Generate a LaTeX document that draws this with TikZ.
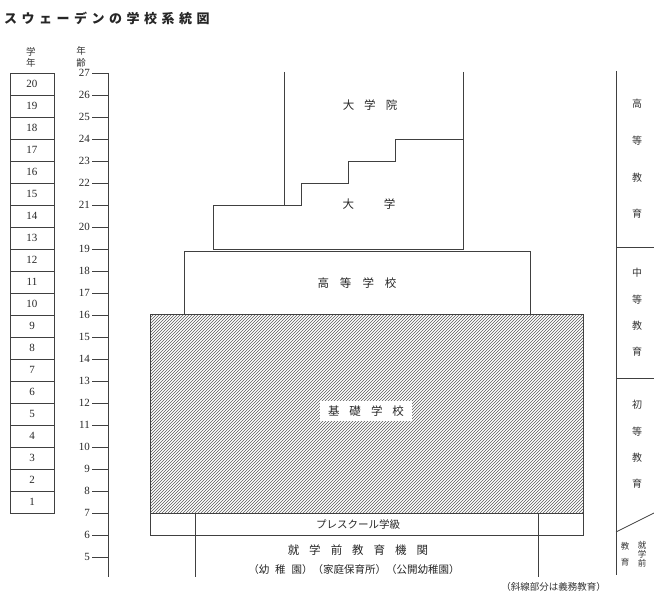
\documentclass[tikz,border=0pt]{standalone}
\usepackage{fontspec}
\setmainfont{Liberation Serif}
\newfontfamily\jp{Noto Sans CJK JP}
\usetikzlibrary{patterns}
\begin{document}
\begin{tikzpicture}[x=1pt,y=-1pt,
  ln/.style={draw=black!75,line width=0.7pt},
  num/.style={inner sep=0pt,font=\fontsize{11}{11}\selectfont,text=black!85},
  jt/.style={inner sep=0pt,font=\jp\fontsize{11.5}{11.5}\selectfont,text=black!85},
  rc/.style={inner sep=0pt,font=\jp\fontsize{10}{10}\selectfont,text=black!80},
  sm/.style={inner sep=0pt,font=\jp\fontsize{8.5}{8.5}\selectfont,text=black!80}]
\useasboundingbox (0,0) rectangle (654,591);
% title
\node[anchor=west,inner sep=0pt,font=\jp\bfseries\fontsize{13}{13}\selectfont,text=black!85] (title) at (4,18)
 {ス\kern4.5ptウ\kern4.5ptェ\kern4.5ptー\kern4.5ptデ\kern4.5ptン\kern4.5ptの\kern4.5pt学\kern4.5pt校\kern4.5pt系\kern4.5pt統\kern4.5pt図};
% headers
\node[sm,font=\jp\fontsize{9.5}{9.5}\selectfont] (hg1) at (31,52) {学};
\node[sm,font=\jp\fontsize{9.5}{9.5}\selectfont] (hg2) at (31,63) {年};
\node[sm,font=\jp\fontsize{9.5}{9.5}\selectfont] (ha1) at (81,51) {年};
\node[sm,font=\jp\fontsize{9.5}{9.5}\selectfont] (ha2) at (81,63) {齢};
% grade boxes
\foreach \g in {1,...,20}{
  \pgfmathsetmacro\yt{73+(20-\g)*22}
  \pgfmathsetmacro\yb{\yt+22}
  \pgfmathsetmacro\ym{\yt+11}
  \draw[ln] (10,\yt) rectangle (54,\yb);
  \node[num] (g\g) at (32,\ym) {\g};
}
% age axis
\draw[ln] (108,73) -- (108,577);
\foreach \a in {5,...,27}{
  \pgfmathsetmacro\y{73+(27-\a)*22}
  \draw[ln] (92,\y) -- (108,\y);
  \node[num,anchor=east] (a\a) at (90,\y) {\a};
}
% university / graduate school
\draw[ln] (213,249) -- (213,205) -- (301,205) -- (301,183) -- (348,183) -- (348,161)
  -- (395,161) -- (395,139) -- (463,139) -- (463,249) -- cycle;
\draw[ln] (284,72) -- (284,205);
\draw[ln] (463,72) -- (463,139);
\node[jt] (gs) at (370,105) {大\hspace{10pt}学\hspace{10pt}院};
\node[jt] (univ) at (369,204) {大\hspace{30pt}学};
% upper secondary
\draw[ln] (184,314) -- (184,251) -- (530,251) -- (530,314);
\node[jt] (hs) at (357,283) {高\hspace{11pt}等\hspace{11pt}学\hspace{11pt}校};
% compulsory school (hatched)
\draw[ln,pattern=north east lines,pattern color=black!65] (150,314) rectangle (583,513);
\node[jt,fill=white,inner xsep=8pt,inner ysep=5pt] (basic) at (366,411) {基\hspace{10pt}礎\hspace{10pt}学\hspace{10pt}校};
% preschool class
\draw[ln] (150,513) rectangle (583,535);
\draw[ln] (195,513) -- (195,577);
\draw[ln] (538,513) -- (538,577);
\node[jt,font=\jp\fontsize{10.5}{10.5}\selectfont] (pre) at (358,524) {プレスクール学級};
\node[jt] (pree) at (358,550) {就\hspace{10pt}学\hspace{10pt}前\hspace{10pt}教\hspace{10pt}育\hspace{10pt}機\hspace{10pt}関};
\node[jt,font=\jp\fontsize{10.5}{10.5}\selectfont] (kinds) at (354,570) {（幼\hspace{6pt}稚\hspace{6pt}園）（家庭保育所）（公開幼稚園）};
\node[sm,anchor=east,font=\jp\fontsize{9.5}{9.5}\selectfont] (note) at (606,587) {（斜線部分は義務教育）};
% right column
\draw[ln] (616,71) -- (616,575);
\draw[ln] (616,247) -- (654,247);
\draw[ln] (616,378) -- (654,378);
\draw[ln] (616,532) -- (654,513);
\node[rc] (h1) at (637,104) {高};
\node[rc] (h2) at (637,141) {等};
\node[rc] (h3) at (637,178) {教};
\node[rc] (h4) at (637,214) {育};
\node[rc] (m1) at (637,273) {中};
\node[rc] (m2) at (637,300) {等};
\node[rc] (m3) at (637,326) {教};
\node[rc] (m4) at (637,352) {育};
\node[rc] (p1) at (637,405) {初};
\node[rc] (p2) at (637,432) {等};
\node[rc] (p3) at (637,458) {教};
\node[rc] (p4) at (637,484) {育};
\node[sm] (e1) at (625,546) {教};
\node[sm] (e2) at (625,562) {育};
\node[sm] (e3) at (642,545) {就};
\node[sm] (e4) at (642,554) {学};
\node[sm] (e5) at (642,563) {前};
\end{tikzpicture}
\end{document}
